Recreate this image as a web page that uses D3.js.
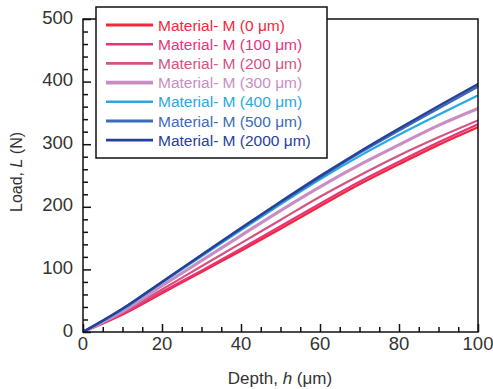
<!DOCTYPE html>
<html>
<head>
<meta charset="utf-8">
<script src="https://cdn.jsdelivr.net/npm/d3@7"></script>
<style>
  html, body { margin: 0; padding: 0; background: #fff; }
  svg { display: block; font-family: "Liberation Sans", Arial, sans-serif; }
</style>
</head>
<body>
<svg id="chart" width="493" height="389"></svg>
<script>
// ---- data ----
const depth = [0, 10, 20, 30, 40, 50, 60, 70, 80, 90, 100];
const seriesNames = ["Material- M (0 \u03bcm)", "Material- M (100 \u03bcm)", "Material- M (200 \u03bcm)",
  "Material- M (300 \u03bcm)", "Material- M (400 \u03bcm)", "Material- M (500 \u03bcm)", "Material- M (2000 \u03bcm)"];
const load0    = [0, 28, 62, 96, 130, 165, 201, 236, 268, 299, 327];
const load100  = [0, 29, 64, 98, 133, 169, 205, 240, 272, 303, 332];
const load200  = [0, 31, 68, 105, 142, 179, 216, 250, 282, 311, 338];
const load300  = [0, 33, 74, 114, 154, 194, 232, 267, 299, 330, 357];
const load400  = [0, 36, 79, 121, 163, 204, 244, 281, 315, 347, 378];
const load500  = [0, 37, 80, 123, 165, 207, 247, 286, 322, 357, 392];
const load2000 = [0, 37, 80, 123, 166, 208, 249, 288, 325, 361, 396];
const seriesValues = [load0, load100, load200, load300, load400, load500, load2000];
const seriesColors = ["#f0283a", "#e8337a", "#d4537f", "#c98dc3", "#27a9e1", "#3d6bb5", "#27409a"];
const seriesWidths = [2.4, 2.2, 2.2, 3.2, 2.2, 2.4, 2.4];
const xTicks = [0, 20, 40, 60, 80, 100];
const yTicks = [0, 100, 200, 300, 400, 500];

// ---- layout ----
const svg = d3.select("#chart");
const pLeft = 83, pRight = 478, pTop = 19, pBottom = 332;
const x = d3.scaleLinear().domain([0, 100]).range([pLeft, pRight]);
const y = d3.scaleLinear().domain([0, 500]).range([pBottom, pTop]);
const textCol = "#333";

// clip
svg.append("clipPath").attr("id", "clip").append("rect")
  .attr("x", pLeft).attr("y", pTop).attr("width", pRight - pLeft).attr("height", pBottom - pTop);

// lines
const line = d3.line().x(d => x(d[0])).y(d => y(d[1])).curve(d3.curveMonotoneX);
const linesG = svg.append("g").attr("clip-path", "url(#clip)");
seriesValues.forEach((vals, i) => {
  linesG.append("path")
    .datum(depth.map((h, j) => [h, vals[j]]))
    .attr("d", line)
    .attr("fill", "none")
    .attr("stroke", seriesColors[i])
    .attr("stroke-width", seriesWidths[i])
    .attr("stroke-linejoin", "round")
    .attr("stroke-linecap", "round");
});

// frame
svg.append("rect").attr("x", pLeft).attr("y", pTop)
  .attr("width", pRight - pLeft).attr("height", pBottom - pTop)
  .attr("fill", "none").attr("stroke", "#111").attr("stroke-width", 1.5);

// x axis ticks (inward)
const xAxisG = svg.append("g").attr("transform", `translate(0,${pBottom})`);
xAxisG.call(d3.axisTop(x).tickValues(d3.range(0, 101, 5)).tickSize(0).tickFormat(""));
xAxisG.select(".domain").remove();
xAxisG.selectAll(".tick line").remove();
xAxisG.selectAll(".tick").append("line")
  .attr("y1", 0).attr("y2", d => d % 20 === 0 ? -8 : -5)
  .attr("stroke", "#111").attr("stroke-width", 1.5);
xTicks.forEach(t => {
  svg.append("text").attr("x", x(t)).attr("y", 350)
    .attr("text-anchor", "middle").attr("font-size", 18.5).attr("fill", textCol).text(t);
});

// y axis ticks (inward)
const yAxisG = svg.append("g").attr("transform", `translate(${pLeft},0)`);
yAxisG.call(d3.axisRight(y).tickValues(d3.range(0, 501, 20)).tickSize(0).tickFormat(""));
yAxisG.select(".domain").remove();
yAxisG.selectAll(".tick line").remove();
yAxisG.selectAll(".tick").append("line")
  .attr("x1", 0).attr("x2", d => d % 100 === 0 ? 8 : 5)
  .attr("stroke", "#111").attr("stroke-width", 1.5);
yTicks.forEach(t => {
  svg.append("text").attr("x", 73).attr("y", y(t) + 4.5)
    .attr("text-anchor", "end").attr("font-size", 18.5).attr("fill", textCol).text(t);
});

// axis titles
const xt = svg.append("text").attr("x", 280).attr("y", 384)
  .attr("text-anchor", "middle").attr("font-size", 17).attr("fill", textCol);
xt.append("tspan").text("Depth, ");
xt.append("tspan").attr("font-style", "italic").text("h");
xt.append("tspan").text(" (\u03bcm)");

const yt = svg.append("text").attr("transform", "translate(22,172) rotate(-90)")
  .attr("text-anchor", "middle").attr("font-size", 16).attr("fill", textCol);
yt.append("tspan").text("Load, ");
yt.append("tspan").attr("font-style", "italic").text("L");
yt.append("tspan").text(" (N)");

// legend
const lg = svg.append("g");
lg.append("rect").attr("x", 96).attr("y", 7).attr("width", 231).attr("height", 151)
  .attr("fill", "#fff").attr("stroke", "#111").attr("stroke-width", 1.5);
seriesNames.forEach((name, i) => {
  const cy = 25 + i * 19.2;
  lg.append("line").attr("x1", 106).attr("x2", 153).attr("y1", cy).attr("y2", cy)
    .attr("stroke", seriesColors[i]).attr("stroke-width", seriesWidths[i] + 0.4);
  lg.append("text").attr("x", 158).attr("y", cy + 5.5)
    .attr("font-size", 15.5).attr("fill", seriesColors[i]).text(name);
});
</script>
</body>
</html>
